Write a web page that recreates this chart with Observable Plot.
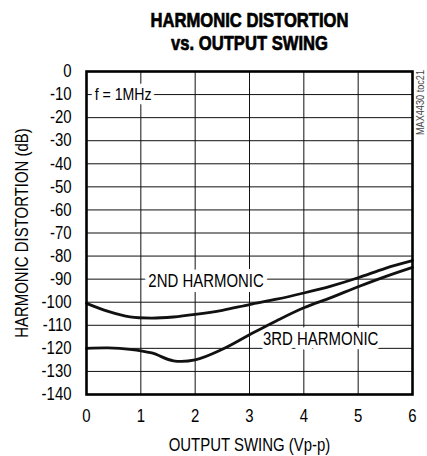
<!DOCTYPE html>
<html>
<head>
<meta charset="utf-8">
<script src="https://cdn.jsdelivr.net/npm/d3@7"></script>
<script src="https://cdn.jsdelivr.net/npm/@observablehq/plot@0.6"></script>
<style>
  html, body { margin: 0; padding: 0; background: #fff; }
</style>
</head>
<body>
<div id="chart"></div>
<script>
const titleLines = ["HARMONIC DISTORTION", "vs. OUTPUT SWING"];
const xLabel = "OUTPUT SWING (Vp-p)";
const yLabel = "HARMONIC DISTORTION (dB)";
const noteText = "f = 1MHz";
const codeText = "MAX4430 toc21";
const xTicks = [0, 1, 2, 3, 4, 5, 6];
const yTicks = [0, -10, -20, -30, -40, -50, -60, -70, -80, -90, -100, -110, -120, -130, -140];

const swing = [0, 0.4, 0.8, 1.2, 1.6, 2, 2.5, 3, 3.5, 4, 4.5, 5, 5.5, 6];
const second = [-100.5, -104, -106.4, -106.9, -106.4, -105.3, -103.5, -101, -98.7, -96, -93, -89.4, -85.3, -82];
const third = [-120, -119.8, -120.4, -122, -125.4, -125, -120.4, -114.1, -108, -102.4, -98, -93.3, -88.9, -84.9];

const seriesNames = ["2ND HARMONIC", "3RD HARMONIC"];
const labelX = [2.2, 4.31];
const labelY = [-90, -120];

const rows = [
  ...swing.map((x, i) => ({x, y: second[i], s: seriesNames[0]})),
  ...swing.map((x, i) => ({x, y: third[i], s: seriesNames[1]}))
];

const FONT = "'Liberation Sans', Arial, Helvetica, sans-serif";
const halo = {fill: "#000", stroke: "#fff", strokeWidth: 10, paintOrder: "stroke", fontSize: 18};
const heavy = {frameAnchor: "top", lineAnchor: "middle", fontSize: 20, fontWeight: "bold", fill: "#000", stroke: "#000", strokeWidth: 0.7};

const chart = Plot.plot({
  width: 427,
  height: 456,
  marginLeft: 86,
  marginRight: 15,
  marginTop: 71,
  marginBottom: 62,
  x: {domain: [0, 6]},
  y: {domain: [-140, 0]},
  style: {fontFamily: FONT, fontSize: "18px", color: "#000", background: "#fff"},
  marks: [
    Plot.ruleY(yTicks.slice(1, -1), {stroke: "#111", strokeWidth: 1}),
    Plot.ruleX(xTicks.slice(1, -1), {stroke: "#111", strokeWidth: 1}),
    Plot.text([noteText], {x: 0.15, y: -10, textAnchor: "start", ...halo, fontSize: 17, strokeWidth: 9}),
    Plot.text([seriesNames[0]], {x: labelX[0], y: labelY[0], dy: 2, ...halo}),
    Plot.text([seriesNames[1]], {x: labelX[1], y: labelY[1], dy: -9, ...halo}),
    Plot.line(rows, {x: "x", y: "y", z: "s", curve: "catmull-rom", stroke: "#111", strokeWidth: 2.8}),
    Plot.frame({stroke: "#000", strokeWidth: 2.6}),
    Plot.axisX({ticks: xTicks, tickSize: 0, tickPadding: 15, label: null, tickFormat: d => String(d), fontSize: 18}),
    Plot.axisY({ticks: yTicks, tickSize: 0, tickPadding: 15, label: null, tickFormat: d => String(d), fontSize: 18}),
    Plot.text([xLabel], {frameAnchor: "bottom", lineAnchor: "middle", dy: 51, fontSize: 18}),
    Plot.text([yLabel], {frameAnchor: "left", dx: -64, rotate: -90, textAnchor: "middle", lineAnchor: "middle", fontSize: 18}),
    Plot.text([titleLines[0]], {...heavy, dy: -51}),
    Plot.text([titleLines[1]], {...heavy, dy: -28}),
    Plot.text([codeText], {frameAnchor: "top-right", dx: 8, dy: 31, rotate: -90, textAnchor: "middle", lineAnchor: "middle", fontSize: 11, fill: "#444"})
  ]
});
document.getElementById("chart").appendChild(chart);

// condense glyphs to mimic the narrow typeface of the original
chart.querySelectorAll("text").forEach(t => {
  const len = t.getComputedTextLength();
  if (len > 0) {
    t.setAttribute("textLength", (len * 0.83).toFixed(1));
    t.setAttribute("lengthAdjust", "spacingAndGlyphs");
  }
});
</script>
</body>
</html>
